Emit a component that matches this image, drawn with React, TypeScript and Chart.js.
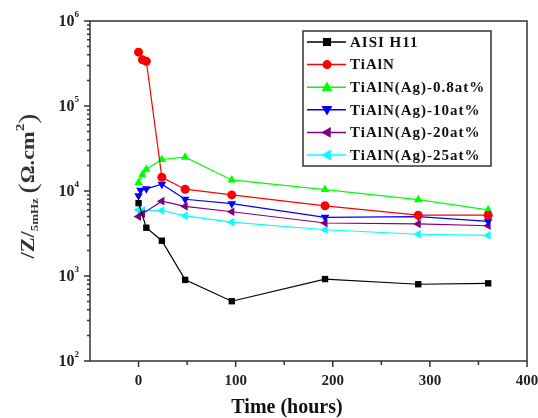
import React, { useEffect, useRef } from "react";
import { Chart, registerables } from "chart.js";

Chart.register(...registerables);

// ---- data ----
const seriesNames = [
  "AISI H11",
  "TiAlN",
  "TiAlN(Ag)-0.8at%",
  "TiAlN(Ag)-10at%",
  "TiAlN(Ag)-20at%",
  "TiAlN(Ag)-25at%",
];

const timeH11 = [0, 8, 24, 48, 96, 192, 288, 360];
const valH11 = [7200, 3700, 2600, 900, 505, 920, 800, 820];

const timeTiAlN = [0, 4, 8, 24, 48, 96, 192, 288, 360];
const valTiAlN = [430000, 350000, 335000, 14500, 10500, 9000, 6700, 5200, 5200];

const timeAg08 = [0, 4, 8, 24, 48, 96, 192, 288, 360];
const valAg08 = [12500, 15500, 18000, 23500, 25000, 13500, 10400, 7900, 6000];

const timeAg10 = [0, 2, 8, 24, 48, 96, 192, 288, 360];
const valAg10 = [8800, 10200, 10600, 12000, 8000, 7100, 4900, 5000, 4400];

const timeAg20 = [0, 4, 24, 48, 96, 192, 288, 360];
const valAg20 = [5000, 5400, 7600, 6600, 5700, 4200, 4100, 3900];

const timeAg25 = [0, 4, 24, 48, 96, 192, 288, 360];
const valAg25 = [6000, 5900, 5900, 5100, 4300, 3500, 3100, 3000];

const xMajorTicks = [0, 100, 200, 300, 400];
const xMinorTicks = [50, 150, 250, 350];
const yDecades = [2, 3, 4, 5, 6];

const colors = ["#000000", "#ff0000", "#00ff00", "#0000ff", "#800080", "#00ffff"];
const pointStyles = ["rect", "circle", "triangle", "triangle", "triangle", "triangle"];
const rotations = [0, 0, 0, 180, -90, -90];
const pointSizes = [4.5, 4.5, 5, 5, 5, 5];

const times = [timeH11, timeTiAlN, timeAg08, timeAg10, timeAg20, timeAg25];
const values = [valH11, valTiAlN, valAg08, valAg10, valAg20, valAg25];

const SERIF = '"Liberation Serif", "Times New Roman", serif';

function drawMarker(ctx: CanvasRenderingContext2D, style: string, rot: number, x: number, y: number, r: number, color: string) {
  ctx.save();
  ctx.fillStyle = color;
  ctx.translate(x, y);
  ctx.rotate((rot * Math.PI) / 180);
  ctx.beginPath();
  if (style === "rect") {
    const s = r * 0.9;
    ctx.rect(-s, -s, 2 * s, 2 * s);
  } else if (style === "circle") {
    ctx.arc(0, 0, r, 0, Math.PI * 2);
  } else {
    const h = r * 1.15;
    ctx.moveTo(0, -h);
    ctx.lineTo(h * 0.95, h * 0.65);
    ctx.lineTo(-h * 0.95, h * 0.65);
    ctx.closePath();
  }
  ctx.fill();
  ctx.restore();
}

const decorPlugin = {
  id: "decor",
  afterDraw(chart: any) {
    const ctx: CanvasRenderingContext2D = chart.ctx;
    const { left, right, top, bottom } = chart.chartArea;
    const xs = chart.scales.x;
    const ys = chart.scales.y;
    ctx.save();
    // frame
    ctx.strokeStyle = "#333";
    ctx.lineWidth = 1.5;
    ctx.strokeRect(left, top, right - left, bottom - top);

    // ticks
    ctx.beginPath();
    for (const v of xMajorTicks) {
      const px = xs.getPixelForValue(v);
      ctx.moveTo(px, bottom);
      ctx.lineTo(px, bottom + 6);
    }
    for (const v of xMinorTicks) {
      const px = xs.getPixelForValue(v);
      ctx.moveTo(px, bottom);
      ctx.lineTo(px, bottom + 4);
    }
    for (const d of yDecades) {
      const py = ys.getPixelForValue(Math.pow(10, d));
      ctx.moveTo(left, py);
      ctx.lineTo(left - 6, py);
      if (d < 6) {
        for (let m = 2; m <= 9; m++) {
          const pm = ys.getPixelForValue(m * Math.pow(10, d));
          ctx.moveTo(left, pm);
          ctx.lineTo(left - 3, pm);
        }
      }
    }
    ctx.stroke();

    // x tick labels
    ctx.fillStyle = "#222";
    ctx.font = `bold 15px ${SERIF}`;
    ctx.textAlign = "center";
    ctx.textBaseline = "middle";
    for (const v of xMajorTicks) {
      ctx.fillText(String(v), xs.getPixelForValue(v), bottom + 20);
    }
    // y tick labels
    for (const d of yDecades) {
      const py = ys.getPixelForValue(Math.pow(10, d));
      ctx.font = `bold 9px ${SERIF}`;
      ctx.textAlign = "right";
      ctx.textBaseline = "middle";
      const ew = ctx.measureText(String(d)).width;
      ctx.fillText(String(d), left - 11, py - 6);
      ctx.font = `bold 16px ${SERIF}`;
      ctx.fillText("10", left - 11 - ew, py + 1);
    }

    // x title
    ctx.font = `bold 20px ${SERIF}`;
    ctx.textAlign = "center";
    ctx.textBaseline = "middle";
    ctx.fillStyle = "#111";
    ctx.fillText("Time (hours)", 287, 408);

    // y title (rotated)
    const parts: [string, string, number, number][] = [
      ["/Z/", `bold 19px ${SERIF}`, 0, 0],
      ["5mHz", `bold 11px ${SERIF}`, 6, 4],
      ["(", `26px ${SERIF}`, 0, 0],
      ["Ω.cm", `bold 19px ${SERIF}`, 0, 0],
      ["2", `bold 13px ${SERIF}`, -8, 0],
      [")", `26px ${SERIF}`, 0, 0],
    ];
    let total = 0;
    for (const p of parts) {
      ctx.font = p[1];
      total += ctx.measureText(p[0]).width + p[3];
    }
    const target = 145;
    const k = target / total;
    ctx.save();
    ctx.translate(29, 186 + target / 2);
    ctx.rotate(-Math.PI / 2);
    ctx.scale(k, 1);
    ctx.textAlign = "left";
    ctx.textBaseline = "middle";
    ctx.fillStyle = "#333";
    let cx = 0;
    for (const p of parts) {
      ctx.font = p[1];
      ctx.fillText(p[0], cx, p[2]);
      cx += ctx.measureText(p[0]).width + p[3];
    }
    ctx.restore();

    // legend
    const lx = 303, ly = 31, lw = 188, lh = 135;
    ctx.fillStyle = "#fff";
    ctx.fillRect(lx, ly, lw, lh);
    ctx.strokeStyle = "#333";
    ctx.lineWidth = 1.5;
    ctx.strokeRect(lx, ly, lw, lh);
    for (let i = 0; i < seriesNames.length; i++) {
      const yy = 42 + i * 22.6;
      ctx.strokeStyle = colors[i];
      ctx.lineWidth = 1.5;
      ctx.beginPath();
      ctx.moveTo(307, yy);
      ctx.lineTo(346, yy);
      ctx.stroke();
      drawMarker(ctx, pointStyles[i], rotations[i], 327, yy, pointSizes[i], colors[i]);
      ctx.fillStyle = "#111";
      ctx.font = `bold 15px ${SERIF}`;
      (ctx as any).letterSpacing = "1px";
      ctx.textAlign = "left";
      ctx.textBaseline = "middle";
      ctx.fillText(seriesNames[i], 350, yy + 1);
      (ctx as any).letterSpacing = "0px";
    }
    ctx.restore();
  },
};

export default function App() {
  const ref = useRef<HTMLCanvasElement | null>(null);
  useEffect(() => {
    if (!ref.current) return;
    const datasets = seriesNames.map((name, i) => ({
      label: name,
      data: times[i].map((t, j) => ({ x: t, y: values[i][j] })),
      borderColor: colors[i],
      backgroundColor: colors[i],
      borderWidth: 1.2,
      pointStyle: pointStyles[i] as any,
      rotation: rotations[i],
      pointRadius: pointSizes[i],
      pointBorderWidth: 0,
      showLine: true,
      tension: 0,
    }));
    const chart = new Chart(ref.current, {
      type: "scatter",
      data: { datasets },
      options: {
        animation: false,
        responsive: false,
        devicePixelRatio: 1,
        layout: { padding: { left: 0, right: 11, top: 21, bottom: 0 } },
        plugins: { legend: { display: false }, tooltip: { enabled: false } },
        scales: {
          x: {
            type: "linear",
            min: -50,
            max: 400,
            ticks: { display: false },
            grid: { display: false },
            border: { display: false },
            afterFit: (s: any) => {
              s.height = 57;
            },
          },
          y: {
            type: "logarithmic",
            min: 100,
            max: 1000000,
            ticks: { display: false },
            grid: { display: false },
            border: { display: false },
            afterFit: (s: any) => {
              s.width = 90;
            },
          },
        },
      },
      plugins: [decorPlugin],
    });
    return () => chart.destroy();
  }, []);
  return (
    <div style={{ position: "fixed", left: 0, top: 0, width: 538, height: 418, background: "#fff" }}>
      <canvas ref={ref} width={538} height={418} />
    </div>
  );
}
